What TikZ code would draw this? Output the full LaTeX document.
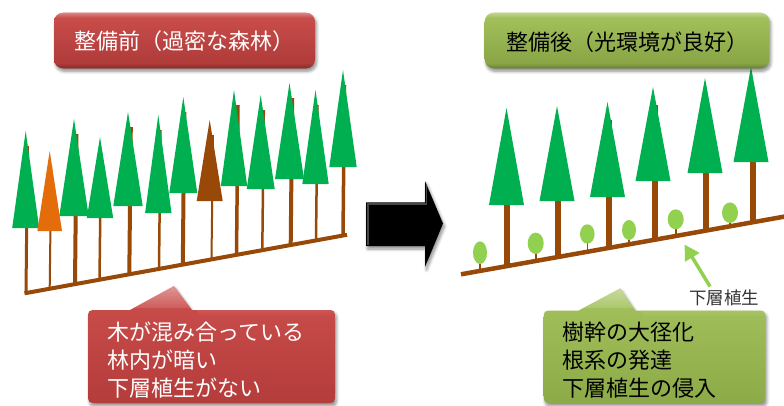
\documentclass[tikz,border=0pt]{standalone}
\usepackage{fontspec}
\setmainfont{Noto Sans CJK JP}
\usetikzlibrary{arrows.meta,shadows.blur,shadings}

\definecolor{leaf}{HTML}{00B050}
\definecolor{bark}{HTML}{984807}
\definecolor{rust}{HTML}{E46C0A}
\definecolor{shrub}{HTML}{92D050}
\definecolor{boxred}{HTML}{C84341}
\definecolor{boxgreen}{HTML}{9CBD4F}

\tikzset{
  softshadow/.style={blur shadow={shadow xshift=1.5pt, shadow yshift=-3pt,
      shadow blur radius=3pt, shadow blur steps=6, shadow opacity=45}},
  titletext/.style={font=\fontsize{22}{26}\selectfont, inner sep=0pt},
  calltext/.style={font=\fontsize{22}{28.3}\selectfont, align=left,
      anchor=west, inner sep=0pt},
}

% callout outline: left x, right x, top y, bottom y, pointer base-left x, apex x, apex y, pointer base-right x
\newcommand\calloutpath[8]{%
  ({#1+10},#3) -- (#5,#3) -- (#6,#7) -- (#8,#3) -- ({#2-10},#3)
  .. controls (#2,#3) .. (#2,{#3+10}) -- (#2,{#4-10})
  .. controls (#2,#4) .. ({#2-10},#4) -- ({#1+10},#4)
  .. controls (#1,#4) .. (#1,{#4-10}) -- (#1,{#3+10})
  .. controls (#1,#3) .. ({#1+10},#3) -- cycle}

\begin{document}
\begin{tikzpicture}[x=1pt,y=-1pt]
\useasboundingbox (0,0) rectangle (784,405);

% ---------- before thinning: dense stand ----------
% apex x / apex y / base y / half width / trunk x / trunk width / crown colour
\def\denseforest{25.7/131/228/13.5/26/3/leaf,
  49.7/151/231/12.3/49.7/2/rust,
  74/119/216/14.7/75/4/leaf,
  100/137/218/13.2/99.5/2.5/leaf,
  128/112/206/14.7/129.3/4/leaf,
  158.3/115/213/13.2/159/2.5/leaf,
  183.3/97/193/14/182.8/4/leaf,
  209.7/120/201/13/211.5/2/bark,
  234/90/186/13.2/236.5/3.5/leaf,
  260.7/95/189/14/262.3/2.5/leaf,
  289.5/83/179/14.5/290.7/4/leaf,
  315.5/90/184/13.2/316/2.5/leaf,
  343/70/167/13.7/343/3.5/leaf}
\foreach \ax/\ay/\by/\hw/\tx/\tw/\col in \denseforest {
  \draw[bark, line width=\tw pt] (\tx,{293-0.181*(\tx-26)}) -- ({\tx+1.5},{\ay+15});
}
\foreach \ax/\ay/\by/\hw/\tx/\tw/\col in \denseforest {
  \fill[\col] (\ax,\ay) -- ({\ax-\hw},\by) -- ({\ax+\hw},\by) -- cycle;
}
\draw[bark, line width=4pt] (24.5,293.3) -- (347,234.8);

% ---------- after thinning: open stand ----------
% apex x / apex y / base y / trunk x / trunk top
\def\openforest{506.5/108/205/506.5/205,
  557/106/201/557.5/201,
  607.5/102/197/609/120,
  653/87/181/654.8/105,
  705/78/173/705.5/173,
  751/67/162/752.5/162}
\foreach \ax/\ay/\by/\tx/\tt in \openforest {
  \draw[bark, line width=6pt] (\tx,{274.3-0.1783*(\tx-461)}) -- (\tx,\tt);
}
\foreach \ax/\ay/\by/\tx/\tt in \openforest {
  \fill[leaf] (\ax,\ay) -- ({\ax-17.5},\by) -- ({\ax+17.5},\by) -- cycle;
}
% understorey shrubs: centre x / centre y / rx / ry
\foreach \sx/\sy/\rx/\ry in {480/252.7/7/11.3, 535.7/243.3/8/10.7,
    587.3/234/7.3/9.7, 629/230/7/10, 675.7/219.3/8/10, 730/212.7/8/10.3} {
  \draw[bark, line width=1.6pt] (\sx,\sy) -- (\sx,{274.3-0.1783*(\sx-461)});
  \fill[shrub] (\sx,\sy) ellipse [x radius=\rx, y radius=\ry];
}
\draw[bark, line width=4.5pt] (461,274.3) -- (790,215.6);

% label for the understorey
\node[text=black!80, font=\fontsize{17.5}{20}\selectfont, inner sep=0pt]
  (understorey) at (724,297.5) {下層植生};
\coordinate (shrubpoint) at (684.5,244.5);
\coordinate (labeltail) at (710,286.5);
\draw[shrub, line width=3.5pt, -{Triangle[length=15pt,width=16pt]}]
  (labeltail) -- (shrubpoint);

% ---------- title boxes (bevelled) ----------
\shade[softshadow, rounded corners=9pt,
  top color=boxred!94!white, bottom color=boxred!86!black]
  (54,12.7) rectangle (315,68.3);
\begin{scope}
  \clip[rounded corners=9pt] (54,12.7) rectangle (315,68.3);
  \shade[top color=white, bottom color=boxred!94!white, opacity=0.5]
    (50,10) rectangle (320,17.5);
  \shade[top color=boxred!86!black, bottom color=boxred!50!black, opacity=0.7]
    (50,63.5) rectangle (320,70);
\end{scope}
\node[titletext, text=white] (before) at (184.5,41) {整備前（過密な森林）};

\shade[softshadow, rounded corners=9pt,
  top color=boxgreen!92!white, bottom color=boxgreen!86!black]
  (484.7,12.7) rectangle (769.3,68.3);
\begin{scope}
  \clip[rounded corners=9pt] (484.7,12.7) rectangle (769.3,68.3);
  \shade[top color=white, bottom color=boxgreen!92!white, opacity=0.5]
    (480,10) rectangle (775,17.5);
  \shade[top color=boxgreen!86!black, bottom color=boxgreen!50!black, opacity=0.7]
    (480,63.5) rectangle (775,70);
\end{scope}
\node[titletext, text=black] (after) at (627,42) {整備後（光環境が良好）};

% ---------- transition arrow ----------
\fill[softshadow, black]
  (366,202.3) -- (425,202.3) -- (425,181) -- (443,223.5) -- (425,267)
  -- (425,246) -- (366,246) -- cycle;
\draw[white, opacity=0.28, line width=1.3pt]
  (368,245) -- (368,204) -- (426.5,204) -- (426.5,185);
\coordinate (arrowtip) at (443,223.5);

% ---------- callouts ----------
\shade[softshadow, top color=boxred!94!white, bottom color=boxred!90!black]
  \calloutpath{88}{335}{310}{403}{130}{174}{286}{192};
\begin{scope}
  \clip \calloutpath{88}{335}{310}{403}{130}{174}{286}{192};
  \shade[top color=white, bottom color=boxred!94!white, opacity=0.45]
    (85,283) -- (174,283) -- (200,315) -- (340,315) -- (340,308) -- (85,308) -- cycle;
\end{scope}
\node[calltext, text=white] (problems) at (107.5,360)
  {木が混み合っている\\林内が暗い\\下層植生がない};

\shade[softshadow, top color=boxgreen!92!white, bottom color=boxgreen!90!black]
  \calloutpath{543.7}{765.3}{310.5}{403}{578.7}{620.3}{288.3}{635.3};
\begin{scope}
  \clip \calloutpath{543.7}{765.3}{310.5}{403}{578.7}{620.3}{288.3}{635.3};
  \shade[top color=white, bottom color=boxgreen!92!white, opacity=0.45]
    (540,285) -- (620,285) -- (645,316) -- (770,316) -- (770,308) -- (540,308) -- cycle;
\end{scope}
\node[calltext, text=black] (effects) at (562,360)
  {樹幹の大径化\\根系の発達\\下層植生の侵入};
\end{tikzpicture}
\end{document}
